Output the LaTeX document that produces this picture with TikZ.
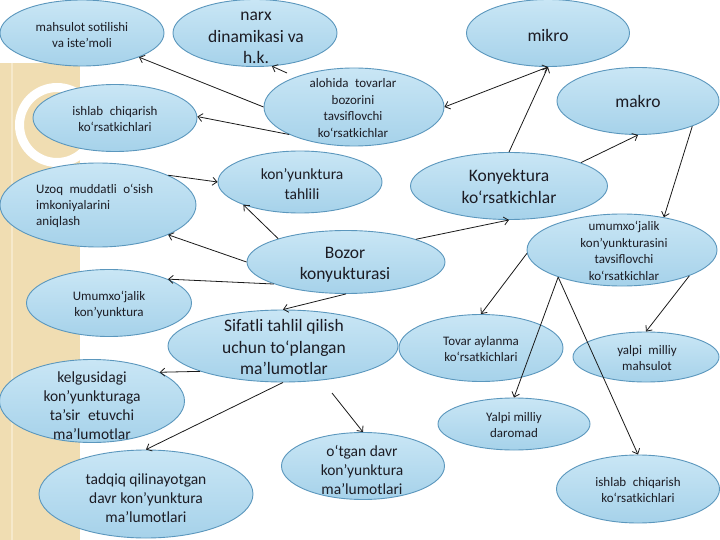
\documentclass[tikz,border=0pt]{standalone}
\usepackage{fontspec}
\setmainfont{Carlito}
\usetikzlibrary{arrows.meta,shapes.geometric}
\definecolor{bubtop}{HTML}{C9E6F5}
\definecolor{bubbot}{HTML}{A6D2EA}
\definecolor{bubline}{HTML}{5B97BD}
\definecolor{txtcol}{HTML}{1C1C24}
\definecolor{linecol}{HTML}{1A1A1A}
\definecolor{tanbg}{HTML}{F0DDB2}
\definecolor{tanlight}{HTML}{F6E9CB}
\begin{document}
\begin{tikzpicture}[x=1pt,y=-1pt,
  bub/.style={ellipse, draw=bubline, line width=0.9pt, top color=bubtop, bottom color=bubbot, inner sep=0pt},
  lbl/.style={inner sep=0pt, align=center, text=txtcol},
  sm/.style={font=\fontsize{13}{16.5}\selectfont},
  md/.style={font=\fontsize{15.5}{19}\selectfont},
  lg/.style={font=\fontsize{17.5}{21.5}\selectfont},
  conn/.style={draw=linecol, line width=0.8pt, -{Straight Barb[length=4.5pt,width=8pt]}},
  conn2/.style={draw=linecol, line width=0.8pt, {Straight Barb[length=4.5pt,width=8pt]}-{Straight Barb[length=4.5pt,width=8pt]}}
]
\useasboundingbox (0,0) rectangle (720,540);
\fill[white] (0,0) rectangle (720,540);
\fill[tanbg] (0,63) rectangle (80,540);
\draw[tanlight, line width=2pt] (12,63) -- (12,540);
\draw[white, line width=9pt] (57,125) circle[radius=37.5];

% nodes
\node[bub, minimum width=164pt, minimum height=66pt] (A) at (82,33) {};
\node[lbl,sm] (At) at (82,35) {mahsulot sotilishi\\va iste’moli};
\node[bub, minimum width=164pt, minimum height=67pt] (B) at (255,33) {};
\node[lbl,lg] (Bt) at (256,38) {narx\\dinamikasi va\\h.k.};
\node[bub, minimum width=180pt, minimum height=78pt] (C) at (354,107) {};
\node[lbl,sm] (Ct) at (353,108) {alohida\enspace tovarlar\\bozorini\\tavsiflovchi\\ko‘rsatkichlar};
\node[bub, minimum width=164pt, minimum height=67pt] (D) at (115,118) {};
\node[lbl,sm] (Dt) at (115,119) {ishlab\enspace chiqarish\\ko‘rsatkichlari};
\node[bub, minimum width=196pt, minimum height=84pt] (E) at (98,205) {};
\node[lbl,sm,align=left,anchor=west,font=\fontsize{13}{16}\selectfont] (Et) at (36,206) {Uzoq\enspace muddatli\enspace o‘sish\\imkoniyalarini\\aniqlash};
\node[bub, minimum width=164pt, minimum height=62pt] (F) at (300,182) {};
\node[lbl,font=\fontsize{15.5}{20}\selectfont] (Ft) at (302,184) {kon’yunktura\\tahlili};
\node[bub, minimum width=197pt, minimum height=67pt] (G) at (509,186) {};
\node[lbl,font=\fontsize{17.5}{22}\selectfont] (Gt) at (509,186) {Konyektura\\ko‘rsatkichlar};
\node[bub, minimum width=163pt, minimum height=67pt] (H) at (548,33) {};
\node[lbl,lg] (Ht) at (548,35) {mikro};
\node[bub, minimum width=162pt, minimum height=67pt] (I) at (638,101) {};
\node[lbl,lg] (It) at (638,101) {makro};
\node[bub, minimum width=198pt, minimum height=63pt] (J) at (346,262) {};
\node[lbl,lg] (Jt) at (345,265) {Bozor\\konyukturasi};
\node[bub, minimum width=190pt, minimum height=72pt] (K) at (622,250) {};
\node[lbl,sm] (Kt) at (624,251) {umumxo‘jalik\\kon’yunkturasini\\tavsiflovchi\\ko‘rsatkichlar};
\node[bub, minimum width=165pt, minimum height=67pt] (L) at (109,303) {};
\node[lbl,sm] (Lt) at (109,305) {Umumxo‘jalik\\kon’yunktura};
\node[bub, minimum width=230pt, minimum height=72pt] (M) at (283,346) {};
\node[lbl,lg] (Mt) at (284,347) {Sifatli tahlil qilish\\uchun to‘plangan\\ma’lumotlar};
\node[bub, minimum width=185pt, minimum height=83pt] (N) at (92,401) {};
\node[lbl,md] (Nt) at (92,406) {kelgusidagi\\kon’yunkturaga\\ta’sir\enspace etuvchi\\ma’lumotlar};
\node[bub, minimum width=214pt, minimum height=88pt] (O) at (146,494) {};
\node[lbl,md] (Ot) at (146,498) {tadqiq qilinayotgan\\davr kon’yunktura\\ma’lumotlari};
\node[bub, minimum width=163pt, minimum height=67pt] (P) at (363,466) {};
\node[lbl,md] (Pt) at (362,470) {o‘tgan davr\\kon’yunktura\\ma’lumotlari};
\node[bub, minimum width=164pt, minimum height=67pt] (Q) at (481,348) {};
\node[lbl,sm] (Qt) at (481,349) {Tovar aylanma\\ko‘rsatkichlari};
\node[bub, minimum width=146pt, minimum height=50pt] (R) at (646,357) {};
\node[lbl,sm] (Rt) at (647,358) {yalpi\enspace milliy\\mahsulot};
\node[bub, minimum width=152pt, minimum height=52pt] (S) at (514,424) {};
\node[lbl,sm] (St) at (514,425) {Yalpi milliy\\daromad};
\node[bub, minimum width=163pt, minimum height=68pt] (T) at (638,489) {};
\node[lbl,sm] (Tt) at (638,490) {ishlab\enspace chiqarish\\ko‘rsatkichlari};

% connectors
\coordinate (cbt) at (287,73);
\coordinate (mpt) at (332,393);
\draw[conn] (C.180) -- (A.-23);
\draw[conn] (cbt) -- (B.-63);
\draw[conn] (C.-157) -- (D.1);
\draw[conn2] (C.0) -- (H.-90);
\draw[conn] (G.90) -- (H.-90);
\draw[conn] (G.18) -- (I.-90);
\draw[conn] (I.-25) -- (K.38);
\draw[conn] (E.23) -- (F.180);
\draw[conn] (J.161) -- (F.-158);
\draw[conn] (J.180) -- (E.-23);
\draw[conn] (J.-163) -- (L.22);
\draw[conn] (J.18) -- (G.-90);
\draw[conn] (J.-90) -- (M.90);
\draw[conn] (M.-163) -- (N.23);
\draw[conn] (M.-90) -- (O.90);
\draw[conn] (mpt) -- (P.90);
\draw[conn] (K.182) -- (Q.90);
\draw[conn] (K.-157) -- (S.90);
\draw[conn] (K.-157) -- (T.90);
\draw[conn] (K.-21) -- (R.90);
\end{tikzpicture}
\end{document}
